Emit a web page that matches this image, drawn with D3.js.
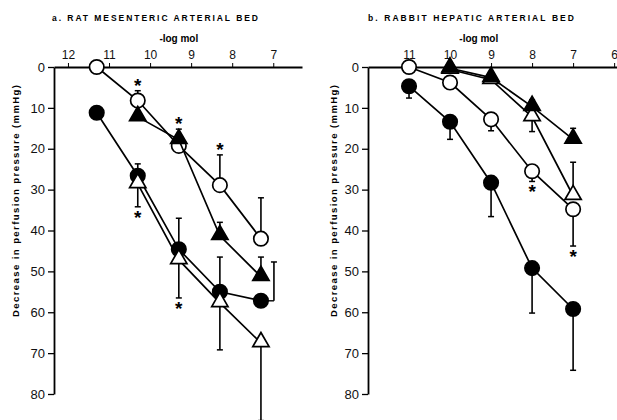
<!DOCTYPE html>
<html>
<head>
<meta charset="utf-8">
<script src="https://cdn.jsdelivr.net/npm/d3@7"></script>
<style>
  body { margin: 0; background: #fff; }
  svg { display: block; font-family: "Liberation Sans", Arial, sans-serif; }
</style>
</head>
<body>
<script>
'use strict';

// ---- panel a : rat mesenteric arterial bed ----
let xA = [11.3, 10.3, 9.3, 8.3, 7.3];
let xA4 = [10.3, 9.3, 8.3, 7.3];
let aOpenCircle = [0, 8.2, 19.3, 28.9, 42];
let aOpenCircleErr = [null, -2.4, null, -7.4, -10];
let aOpenCircleStar = [1, 3];
let aFilledTri = [12.2, 17.8, 41.3, 51.3];
let aFilledTriErr = [null, -2.6, -3.3, -4.8];
let aFilledTriStar = [1];
let aFilledCircle = [11.2, 26.6, 44.6, 55, 57.2];
let aFilledCircleErr = [-1.4, -2.9, -7.6, -8.5, -9.5];
let aOpenTri = [28.6, 47.2, 57.7, 67.5];
let aOpenTriErr = [5.6, 9.3, 11.5, 19];
let aOpenTriStar = [0, 1];

// ---- panel b : rabbit hepatic arterial bed ----
let xB = [11, 10, 9, 8, 7];
let xB4 = [10, 9, 8, 7];
let bOpenCircle = [0, 3.8, 12.8, 25.5, 34.8];
let bOpenCircleErr = [null, null, 2.8, 2.5, 9.0];
let bOpenCircleStar = [3, 4];
let bFilledCircle = [4.7, 13.4, 28.3, 49.2, 59.2];
let bFilledCircleErr = [2.9, 4.3, 8.3, 11, 15];
let bFilledTri = [0.3, 2.6, 9.7, 17.7];
let bFilledTriErr = [null, null, -1.7, -2.7];
let bOpenTri = [0.6, 3.1, 12.2, 31.5];
let bOpenTriErr = [null, null, 3.6, -8.2];

let xTicksA = [12, 11, 10, 9, 8, 7];
let xTicksB = [11, 10, 9, 8, 7, 6];
let yTicks = [0, 10, 20, 30, 40, 50, 60, 70, 80];

(function() {
  let svg = null;

  window.onload = function() {
    svg = d3.select('body').append('svg')
      .attr('width', 617)
      .attr('height', 420);

    let a = makePanel({
      left: 54, right: 302, xDomain: [12.34, 6.3], xTicks: xTicksA,
      title: 'a. RAT MESENTERIC ARTERIAL BED', titleX: 52, titleLen: 206,
      ylabX: 15
    });
    drawSeries(a, xA, aOpenCircle, aOpenCircleErr, aOpenCircleStar, 'circle', false);
    drawSeries(a, xA4, aFilledTri, aFilledTriErr, aFilledTriStar, 'tri', true);
    drawSeries(a, xA, aFilledCircle, aFilledCircleErr, [], 'circle', true, true);
    drawSeries(a, xA4, aOpenTri, aOpenTriErr, aOpenTriStar, 'tri', false);

    let b = makePanel({
      left: 368, right: 617, xDomain: [12, 5.93], xTicks: xTicksB,
      title: 'b. RABBIT HEPATIC ARTERIAL BED', titleX: 368, titleLen: 206,
      ylabX: 333
    });
    drawSeries(b, xB, bOpenCircle, bOpenCircleErr, bOpenCircleStar, 'circle', false);
    drawSeries(b, xB, bFilledCircle, bFilledCircleErr, [], 'circle', true);
    drawSeries(b, xB4, bOpenTri, bOpenTriErr, [], 'tri', false);
    drawSeries(b, xB4, bFilledTri, bFilledTriErr, [], 'tri', true);
  };

  // axes, title and labels of one panel
  function makePanel(p) {
    let x = d3.scaleLinear().domain(p.xDomain).range([p.left, p.right]);
    let y = d3.scaleLinear().domain([0, 80]).range([67, 394]);
    let g = svg.append('g');

    let xAxis = d3.axisTop(x).tickValues(p.xTicks).tickSize(4).tickSizeOuter(0)
      .tickFormat(d3.format('d'));
    let gx = g.append('g').attr('transform', 'translate(0,67)').call(xAxis);
    gx.select('.domain').attr('stroke-width', 1.8);
    gx.selectAll('text').attr('font-size', 12).attr('dy', 0).attr('y', -8)
      .attr('fill', '#111');

    let yAxis = d3.axisLeft(y).tickValues(yTicks).tickSize(6).tickSizeOuter(0);
    let gy = g.append('g').attr('transform', 'translate(' + p.left + ',0)').call(yAxis);
    gy.select('.domain').attr('stroke-width', 1.8);
    gy.selectAll('.tick line').attr('stroke-width', 1.3);
    gy.selectAll('text').attr('font-size', 13).attr('x', -9)
      .attr('fill', '#111');

    g.append('text')
      .attr('x', p.titleX).attr('y', 21)
      .attr('font-size', 8.5).attr('font-weight', 'bold')
      .attr('textLength', p.titleLen).attr('lengthAdjust', 'spacing')
      .text(p.title);

    g.append('text')
      .attr('x', x(9.3)).attr('y', 42)
      .attr('text-anchor', 'middle')
      .attr('font-size', 10).attr('font-weight', 'bold')
      .text('-log mol');

    g.append('text')
      .attr('transform', 'translate(' + (p.ylabX + 4) + ',201)rotate(-90)')
      .attr('text-anchor', 'middle')
      .attr('font-size', 9.5).attr('font-weight', 'bold')
      .attr('textLength', 232).attr('lengthAdjust', 'spacing')
      .text('Decrease in perfusion pressure (mmHg)');

    return { g: g, x: x, y: y };
  }

  // line, error bars, asterisks and markers of one group
  function drawSeries(panel, xs, vals, errs, stars, shape, filled, offsetLast) {
    let x = panel.x, y = panel.y, g = panel.g.append('g');
    let pts = xs.map((d, i) => ({ x: d, v: vals[i], e: errs[i], i: i }));

    let line = d3.line().x(d => x(d.x)).y(d => y(d.v));
    g.append('path').datum(pts)
      .attr('d', line)
      .attr('fill', 'none')
      .attr('stroke', '#000')
      .attr('stroke-width', 1.7);

    pts.forEach(d => {
      if (d.e == null) return;
      let cx = x(d.x), cy = y(d.v), ey = y(d.v + d.e);
      let bx = cx;
      if (offsetLast && d.i === pts.length - 1) {
        bx = cx + 13;
        g.append('line').attr('x1', cx).attr('x2', bx).attr('y1', cy).attr('y2', cy)
          .attr('stroke', '#000').attr('stroke-width', 1.4);
      }
      g.append('line').attr('x1', bx).attr('x2', bx).attr('y1', cy).attr('y2', ey)
        .attr('stroke', '#000').attr('stroke-width', 1.6);
      g.append('line').attr('x1', bx - 3).attr('x2', bx + 3).attr('y1', ey).attr('y2', ey)
        .attr('stroke', '#000').attr('stroke-width', 1.5);
    });

    stars.forEach(i => {
      let d = pts[i];
      let ey = y(d.v + (d.e || 0));
      let sy = d.e < 0 ? ey - 8 : ey + 8;
      g.append('text')
        .attr('x', x(d.x)).attr('y', sy + 9)
        .attr('text-anchor', 'middle')
        .attr('font-size', 19).attr('font-weight', 'bold')
        .text('*');
    });

    let sym = shape === 'circle'
      ? d3.symbol().type(d3.symbolCircle).size(Math.PI * 52)
      : d3.symbol().type(d3.symbolTriangle).size(115);
    g.selectAll('.mk').data(pts).enter().append('path')
      .attr('transform', d => 'translate(' + x(d.x) + ',' + (y(d.v) + (shape === 'tri' ? -1 : 0)) + ')')
      .attr('d', sym)
      .attr('fill', filled ? '#000' : '#fff')
      .attr('stroke', '#000')
      .attr('stroke-width', 1.7);
  }
})();
</script>
</body>
</html>
